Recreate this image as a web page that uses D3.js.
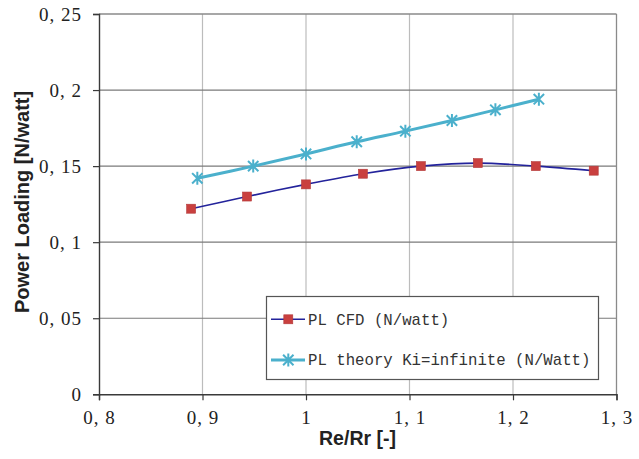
<!DOCTYPE html>
<html><head><meta charset="utf-8">
<script src="https://cdn.jsdelivr.net/npm/d3@7"></script>
<style>html,body{margin:0;padding:0;background:#fff;}svg{display:block;}</style>
</head><body>
<svg id="c" width="639" height="459"></svg>
<script>
// ---- data ----
const cfdX = [0.889, 0.943, 1.000, 1.055, 1.111, 1.166, 1.222, 1.278];
const cfdY = [0.122, 0.130, 0.138, 0.145, 0.150, 0.152, 0.150, 0.147];
const thX = [0.895, 0.949, 1.000, 1.049, 1.096, 1.141, 1.183, 1.225];
const thY = [0.142, 0.150, 0.158, 0.166, 0.173, 0.180, 0.187, 0.194];
const xTicks = [0.8, 0.9, 1.0, 1.1, 1.2, 1.3];
const yTicks = [0, 0.05, 0.1, 0.15, 0.2, 0.25];
const seriesNames = ["PL CFD (N/watt)", "PL theory Ki=infinite (N/Watt)"];
const axisTitles = ["Re/Rr [-]", "Power Loading [N/watt]"];

// ---- layout ----
const svg = d3.select("#c");
const L = 99, R = 616.5, T = 14, B = 394.3;
const x = d3.scaleLinear().domain([0.8, 1.3]).range([L, R]);
const y = d3.scaleLinear().domain([0, 0.25]).range([B, T]);
const fmt = v => (v === 0 ? "0" : (Number.isInteger(v) ? String(v) : String(+v.toFixed(2)).replace(".", ", ")));

// gridlines
svg.append("g").selectAll("line").data(xTicks.slice(1, -1)).join("line")
  .attr("x1", d => x(d)).attr("x2", d => x(d)).attr("y1", T).attr("y2", B)
  .attr("stroke", "#bcbcbc").attr("stroke-width", 1.2);
svg.append("g").selectAll("line").data(yTicks.slice(1, -1)).join("line")
  .attr("x1", L).attr("x2", R).attr("y1", d => y(d)).attr("y2", d => y(d))
  .attr("stroke", "#7a7a7a").attr("stroke-width", 1.2);
// top/right border
svg.append("line").attr("x1", L).attr("x2", R).attr("y1", T).attr("y2", T).attr("stroke", "#8a8a8a").attr("stroke-width", 1.3);
svg.append("line").attr("x1", R).attr("x2", R).attr("y1", T).attr("y2", B).attr("stroke", "#8a8a8a").attr("stroke-width", 1.3);

// axes
const xAxis = svg.append("g").attr("transform", `translate(0,${B})`)
  .call(d3.axisBottom(x).tickValues(xTicks).tickSize(6).tickPadding(10).tickFormat(fmt));
const yAxis = svg.append("g").attr("transform", `translate(${L},0)`)
  .call(d3.axisLeft(y).tickValues(yTicks).tickSize(6).tickPadding(11).tickFormat(fmt));
[xAxis, yAxis].forEach(g => {
  g.select(".domain").attr("stroke", "#3a3a3a").attr("stroke-width", 1.4);
  g.selectAll(".tick line").attr("stroke", "#3a3a3a").attr("stroke-width", 1.2);
  g.selectAll(".tick text").attr("fill", "#222").style("font-family", "'Liberation Serif', serif")
    .style("font-size", "19px").style("letter-spacing", "1px");
});
xAxis.selectAll(".tick text").attr("dy", "0.72em");
yAxis.selectAll(".tick text").attr("dy", "0.34em");

// axis titles
svg.append("text").attr("x", 357.5).attr("y", 445).attr("text-anchor", "middle")
  .style("font-family", "'Liberation Sans', Arial, sans-serif").style("font-weight", "bold").style("font-size", "19.5px")
  .attr("fill", "#222").text(axisTitles[0]);
svg.append("text").attr("transform", "translate(28.5,202) rotate(-90)").attr("text-anchor", "middle")
  .style("font-family", "'Liberation Sans', Arial, sans-serif").style("font-weight", "bold").style("font-size", "20px")
  .attr("fill", "#222").text(axisTitles[1]);

// lines
const cfd = cfdX.map((v, i) => [v, cfdY[i]]);
const th = thX.map((v, i) => [v, thY[i]]);
const line = d3.line().x(d => x(d[0])).y(d => y(d[1])).curve(d3.curveCatmullRom.alpha(0.5));
svg.append("path").attr("d", line(th)).attr("fill", "none").attr("stroke", "#4bb0cc").attr("stroke-width", 3);
svg.append("path").attr("d", line(cfd)).attr("fill", "none").attr("stroke", "#23239b").attr("stroke-width", 1.6);

// markers
function square(g, cx, cy) {
  g.append("rect").attr("x", cx - 4.5).attr("y", cy - 4.5).attr("width", 9).attr("height", 9)
    .attr("fill", "#c9403f").attr("stroke", "#b33a3a").attr("stroke-width", 0.6);
}
function star(g, cx, cy) {
  const r = 6.5, d = r * 0.8;
  const p = `M${cx},${cy - r}L${cx},${cy + r}M${cx - d},${cy - d}L${cx + d},${cy + d}M${cx - d},${cy + d}L${cx + d},${cy - d}`;
  g.append("path").attr("d", p).attr("stroke", "#4bb0cc").attr("stroke-width", 2).attr("fill", "none");
}
const gm = svg.append("g");
th.forEach(d => star(gm, x(d[0]), y(d[1])));
cfd.forEach(d => square(gm, x(d[0]), y(d[1])));

// legend
const lg = svg.append("g");
lg.append("rect").attr("x", 266.5).attr("y", 296.5).attr("width", 332).attr("height", 83)
  .attr("fill", "#fff").attr("stroke", "#555").attr("stroke-width", 1.2);
const rows = [319.3, 360];
lg.append("line").attr("x1", 271).attr("x2", 305).attr("y1", rows[0]).attr("y2", rows[0]).attr("stroke", "#23239b").attr("stroke-width", 1.6);
square(lg, 288.3, rows[0]);
lg.append("line").attr("x1", 271).attr("x2", 305).attr("y1", rows[1]).attr("y2", rows[1]).attr("stroke", "#4bb0cc").attr("stroke-width", 3);
star(lg, 288.3, rows[1]);
seriesNames.forEach((n, i) => {
  lg.append("text").attr("x", 308).attr("y", rows[i]).attr("dy", "0.35em")
    .style("font-family", "'Liberation Mono', monospace").style("font-size", "15.7px")
    .attr("fill", "#333").text(n);
});
</script>
</body></html>
